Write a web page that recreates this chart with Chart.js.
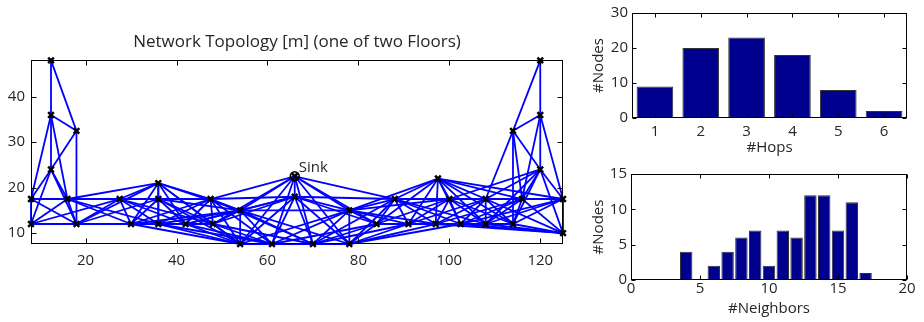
<!DOCTYPE html>
<html><head><meta charset="utf-8">
<script src="https://cdn.jsdelivr.net/npm/chart.js@4.4.1/dist/chart.umd.min.js"></script>
<style>
html,body{margin:0;padding:0;background:#fff;}
#wrap{position:relative;width:924px;height:322px;overflow:hidden;background:#fff;}
canvas{position:absolute;}
</style></head><body>
<div id="wrap">
<canvas id="topo" width="580" height="322" style="left:0;top:0;width:580px;height:322px"></canvas>
<canvas id="hops" width="344" height="161" style="left:580px;top:0;width:344px;height:161px"></canvas>
<canvas id="nbrs" width="344" height="161" style="left:580px;top:161px;width:344px;height:161px"></canvas>
</div>
<script>
// ---------- data ----------
const nodeX = [8, 8, 12.4, 12.4, 12.4, 16, 18, 18, 27.5, 30, 36, 36, 36, 42, 47.5, 48, 54, 54, 61, 66, 66, 70, 78, 78, 84, 88, 91, 97.5, 97, 100, 102.5, 108, 108, 114, 116, 114, 120, 120, 120, 125, 125];
const nodeY = [17.5, 12, 48, 36, 24, 17.5, 12, 32.5, 17.5, 12, 21, 17.5, 12, 12, 17.5, 12, 15, 7.6, 7.6, 22.5, 18, 7.6, 15, 7.6, 12, 17.5, 12, 22, 12, 17.5, 12, 17.5, 12, 12, 17.5, 32.5, 48, 36, 24, 17.5, 10];
const sinkIndex = 19;
const sinkLabel = 'Sink';
const links = [
 [2,3],[2,7],[3,7],[3,4],[4,7],[6,7],[0,3],[0,4],[1,4],[3,5],[4,5],[4,6],[0,5],[0,6],[1,5],[1,6],[0,1],[0,8],[1,8],
 [5,6],[5,8],[5,9],[5,10],[5,11],[5,12],
 [6,8],[6,9],[6,10],[6,11],[6,12],
 [8,9],[8,10],[8,11],[8,12],[8,13],[8,14],[8,15],
 [9,10],[9,11],[9,12],[9,13],[9,14],[9,15],[9,16],[9,17],
 [10,11],[10,12],[10,13],[10,14],[10,15],[10,16],[10,17],
 [11,12],[11,13],[11,14],[11,15],[11,16],[11,17],
 [12,13],[12,14],[12,15],[12,16],[12,17],[12,18],
 [13,14],[13,15],[13,16],[13,17],[13,18],[13,20],
 [14,15],[14,16],[14,17],[14,18],[14,19],[14,20],[14,21],
 [15,16],[15,17],[15,18],[15,19],[15,20],[15,21],
 [16,17],[16,18],[16,19],[16,20],[16,21],[16,22],[16,23],
 [17,18],[17,19],[17,20],[17,21],[17,22],[17,23],
 [18,19],[18,20],[18,21],[18,22],[18,23],[18,24],
 [19,20],[19,21],[19,22],[19,23],[19,24],[19,25],
 [20,21],[20,22],[20,23],[20,24],[20,25],
 [21,22],[21,23],[21,24],[21,25],[21,26],
 [22,23],[22,24],[22,25],[22,26],[22,27],[22,28],[22,29],
 [23,24],[23,25],[23,26],[23,28],[23,30],
 [24,25],[24,26],[24,27],[24,28],[24,29],[24,30],
 [25,26],[25,27],[25,28],[25,29],[25,30],[25,31],[25,32],
 [26,27],[26,28],[26,29],[26,30],[26,31],[26,32],[26,33],
 [27,28],[27,29],[27,30],[27,31],[27,32],[27,33],[27,34],[27,39],
 [28,29],[28,30],[28,31],[28,32],[28,33],[28,34],[28,40],
 [29,30],[29,31],[29,32],[29,33],[29,34],[29,38],[29,39],
 [30,31],[30,32],[30,33],[30,34],[30,39],[30,40],
 [31,32],[31,33],[31,34],[31,35],[31,38],[31,39],[31,40],
 [32,33],[32,34],[32,38],[32,39],[32,40],
 [33,34],[33,35],[33,38],[33,39],[33,40],
 [34,35],[34,37],[34,38],[34,39],[34,40],
 [35,36],[35,37],[35,38],[36,37],[37,38],[37,39],[38,39],[38,40],[39,40]
];
const topoTitle = 'Network Topology [m] (one of two Floors)';
const topoXTicks = [20, 40, 60, 80, 100, 120];
const topoYTicks = [10, 20, 30, 40];

const hopLabels = ['1', '2', '3', '4', '5', '6'];
const hopCounts = [9, 20, 23, 18, 8, 2];
const hopYTicks = [0, 10, 20, 30];

const neighborBins = [0, 1, 2, 3, 4, 5, 6, 7, 8, 9, 10, 11, 12, 13, 14, 15, 16, 17, 18, 19];
const neighborCounts = [0, 0, 0, 0, 4, 0, 2, 4, 6, 7, 2, 7, 6, 12, 12, 7, 11, 1, 0, 0];
const neighborXTicks = [0, 5, 10, 15, 20];
const neighborYTicks = [0, 5, 10, 15];

// ---------- styling ----------
const FONT = 'Open Sans';
const TXT = '#262626';
const BAR = '#00008F';

const boxTicks = {
  id: 'boxTicks',
  afterDatasetsDraw(chart, args, opts) {
    const {ctx, chartArea: a} = chart;
    const xs = chart.scales.x, ys = chart.scales.y;
    const L = opts.len || 5;
    const l = Math.round(a.left) + 0.5, r = Math.round(a.right) - 0.5;
    const t = Math.round(a.top) + 0.5, b = Math.round(a.bottom) - 0.5;
    ctx.save();
    ctx.strokeStyle = '#000';
    ctx.lineWidth = 1;
    ctx.beginPath();
    xs.ticks.forEach((tk, i) => {
      const p = Math.round(xs.getPixelForTick(i)) + 0.5;
      ctx.moveTo(p, b); ctx.lineTo(p, b - L);
      ctx.moveTo(p, t); ctx.lineTo(p, t + L);
    });
    ys.ticks.forEach((tk, i) => {
      const p = Math.round(ys.getPixelForTick(i)) + 0.5;
      ctx.moveTo(l, p); ctx.lineTo(l + L, p);
      ctx.moveTo(r, p); ctx.lineTo(r - L, p);
    });
    ctx.stroke();
    ctx.strokeRect(l, t, r - l, b - t);
    ctx.restore();
  }
};

const sinkText = {
  id: 'sinkText',
  afterDatasetsDraw(chart) {
    const {ctx} = chart;
    const px = chart.scales.x.getPixelForValue(nodeX[sinkIndex]);
    const py = chart.scales.y.getPixelForValue(nodeY[sinkIndex]);
    ctx.save();
    ctx.fillStyle = TXT;
    ctx.font = '15px "' + FONT + '"';
    ctx.textAlign = 'left';
    ctx.textBaseline = 'middle';
    ctx.fillText(sinkLabel, px + 4, py - 9);
    ctx.restore();
  }
};

function fixedTicks(values) {
  return s => { s.ticks = values.map(v => ({value: v})); };
}

// ---------- topology ----------
const edgeSets = links.map(([a, b]) => ({
  data: [{x: nodeX[a], y: nodeY[a]}, {x: nodeX[b], y: nodeY[b]}],
  showLine: true,
  borderColor: '#0000FF',
  borderWidth: 1.8,
  pointRadius: 0,
  clip: false,
  order: 2
}));

new Chart(document.getElementById('topo'), {
  type: 'scatter',
  data: {
    datasets: [
      {
        data: nodeX.map((x, i) => ({x, y: nodeY[i]})),
        pointStyle: 'crossRot',
        pointRadius: 4,
        borderWidth: 2.5,
        borderColor: '#000',
        backgroundColor: '#000',
        showLine: false,
        clip: false,
        order: 0
      },
      {
        data: [{x: nodeX[sinkIndex], y: nodeY[sinkIndex]}],
        pointStyle: 'circle',
        pointRadius: 4.5,
        borderWidth: 1.5,
        borderColor: '#000',
        backgroundColor: 'rgba(0,0,0,0.2)',
        showLine: false,
        clip: false,
        order: 1
      },
      ...edgeSets
    ]
  },
  options: {
    responsive: false,
    animation: false,
    events: [],
    layout: {padding: {left: 0, right: 17, top: 0, bottom: 0}},
    plugins: {
      legend: {display: false},
      tooltip: {enabled: false},
      title: {display: true, text: topoTitle, fullSize: false, color: TXT,
              font: {family: FONT, size: 17, weight: 'normal'}, padding: {top: 32, bottom: 8}},
      boxTicks: {len: 5}
    },
    scales: {
      x: {type: 'linear', min: 8, max: 125,
          afterBuildTicks: fixedTicks(topoXTicks), afterFit: s => { s.height = 78; },
          grid: {display: false, drawTicks: false}, border: {display: false},
          ticks: {color: TXT, font: {family: FONT, size: 15}, padding: 8, maxRotation: 0, autoSkip: false}},
      y: {type: 'linear', min: 7.6, max: 48,
          afterBuildTicks: fixedTicks(topoYTicks), afterFit: s => { s.width = 31; },
          grid: {display: false, drawTicks: false}, border: {display: false},
          ticks: {color: TXT, font: {family: FONT, size: 15}, padding: 6, autoSkip: false}}
    }
  },
  plugins: [boxTicks, sinkText]
});

// ---------- hops histogram ----------
new Chart(document.getElementById('hops'), {
  type: 'bar',
  data: {
    labels: hopLabels,
    datasets: [{data: hopCounts, backgroundColor: BAR, borderColor: '#333', borderWidth: 1,
                barPercentage: 0.8, categoryPercentage: 1}]
  },
  options: {
    responsive: false,
    animation: false,
    events: [],
    layout: {padding: {left: 0, right: 17, top: 9, bottom: 0}},
    plugins: {legend: {display: false}, tooltip: {enabled: false}, boxTicks: {len: 4}},
    scales: {
      x: {afterFit: s => { s.height = 43; },
          grid: {display: false, drawTicks: false}, border: {display: false},
          ticks: {color: TXT, font: {family: FONT, size: 15}, padding: 5, maxRotation: 0},
          title: {display: true, text: '#Hops', color: TXT, font: {family: FONT, size: 15}, padding: {top: 0, bottom: 4}}},
      y: {min: 0, max: 30, afterBuildTicks: fixedTicks(hopYTicks), afterFit: s => { s.width = 52; },
          grid: {display: false, drawTicks: false}, border: {display: false},
          ticks: {color: TXT, font: {family: FONT, size: 15}, padding: 4},
          title: {display: true, text: '#Nodes', color: TXT, font: {family: FONT, size: 15}, padding: {top: 10, bottom: 0}}}
    }
  },
  plugins: [boxTicks]
});

// ---------- neighbors histogram ----------
new Chart(document.getElementById('nbrs'), {
  type: 'bar',
  data: {
    datasets: [{data: neighborBins.map((b, i) => ({x: b, y: neighborCounts[i]})),
                backgroundColor: BAR, borderColor: '#333', borderWidth: 1,
                barPercentage: 0.9, categoryPercentage: 1}]
  },
  options: {
    responsive: false,
    animation: false,
    events: [],
    layout: {padding: {left: 0, right: 17, top: 10, bottom: 0}},
    plugins: {legend: {display: false}, tooltip: {enabled: false}, boxTicks: {len: 4}},
    scales: {
      x: {type: 'linear', min: 0, max: 20, offset: false,
          afterBuildTicks: fixedTicks(neighborXTicks), afterFit: s => { s.height = 42; },
          grid: {display: false, drawTicks: false}, border: {display: false},
          ticks: {color: TXT, font: {family: FONT, size: 15}, padding: 0, maxRotation: 0},
          title: {display: true, text: '#Neighbors', color: TXT, font: {family: FONT, size: 15}, padding: {top: 0, bottom: 4}}},
      y: {min: 0, max: 15, afterBuildTicks: fixedTicks(neighborYTicks), afterFit: s => { s.width = 51; },
          grid: {display: false, drawTicks: false}, border: {display: false},
          ticks: {color: TXT, font: {family: FONT, size: 15}, padding: 4},
          title: {display: true, text: '#Nodes', color: TXT, font: {family: FONT, size: 15}, padding: {top: 10, bottom: 0}}}
    }
  },
  plugins: [boxTicks]
});
</script>
</body></html>
